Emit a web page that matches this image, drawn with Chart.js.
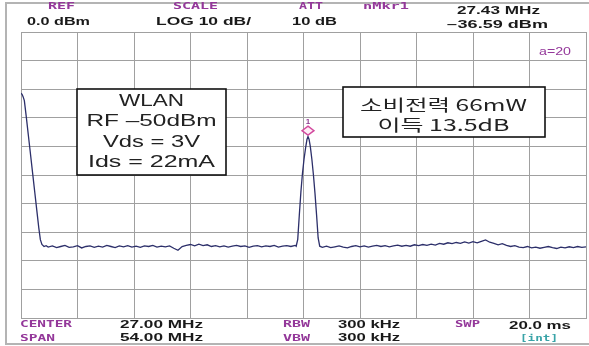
<!DOCTYPE html>
<html>
<head>
<meta charset="utf-8">
<script src="https://cdn.jsdelivr.net/npm/chart.js@4"></script>
<style>
  html, body { margin: 0; padding: 0; background: #ffffff; }
  #wrap { width: 589px; height: 346px; position: relative; }
  canvas { display: block; }
</style>
</head>
<body>
<div id="wrap"><canvas id="sa" width="589" height="346"></canvas></div>
<script>
// Sweep: frequency (MHz) and measured level (dBm), 0 to 54 MHz span
const sweepMHz = [
  0, 0.1, 0.2, 0.32, 0.5, 0.7, 0.9, 1.1, 1.3, 1.5, 1.7, 1.85, 2.0, 2.2, 2.4,
  2.6, 3.0, 3.4, 3.8, 4.2, 4.6, 5.0, 5.4, 5.8, 6.2,
  6.6, 7.0, 7.4, 7.8, 8.2, 8.6, 9.0, 9.4, 9.8, 10.2,
  10.6, 11.0, 11.4, 11.8, 12.2, 12.6, 13.0, 13.4, 13.8, 14.2,
  14.6, 15.0, 15.4, 15.8, 16.2, 16.6, 17.0, 17.4, 17.8, 18.2,
  18.6, 19.0, 19.4, 19.8, 20.2, 20.6, 21.0, 21.4, 21.8, 22.2,
  22.6, 23.0, 23.4, 23.8, 24.2, 24.6, 25.0, 25.4, 25.8, 26.2,
  26.3, 26.45, 26.6, 26.75, 26.9, 27.05, 27.2, 27.33, 27.43, 27.53, 27.65, 27.8, 27.95, 28.1, 28.25, 28.4, 28.55,
  28.8, 29.2, 29.6, 30.0, 30.4, 30.8, 31.2, 31.6, 32.0, 32.4,
  32.8, 33.2, 33.6, 34.0, 34.4, 34.8, 35.2, 35.6, 36.0, 36.4,
  36.8, 37.2, 37.6, 38.0, 38.4, 38.8, 39.2, 39.6, 40.0, 40.4,
  40.8, 41.2, 41.6, 42.0, 42.4, 42.8, 43.2, 43.6, 44.0, 44.4,
  44.8, 45.2, 45.6, 46.0, 46.4, 46.8, 47.2, 47.6, 48.0, 48.4,
  48.8, 49.2, 49.6, 50.0, 50.4, 50.8, 51.2, 51.6, 52.0, 52.4,
  52.8, 53.2, 53.6, 54.0
];
const levelDbm = [
  -21.4, -21.8, -22.6, -24.0, -29.5, -36.0, -42.5, -49.0, -55.5, -62.0, -68.5, -72.6, -74.3, -75.0, -74.7,
  -75.2, -74.8, -75.4, -75.0, -74.6, -75.3, -75.1, -74.7, -75.5, -75.0,
  -74.8, -75.3, -74.9, -75.2, -74.6, -75.0, -75.4, -74.8, -75.1, -74.7,
  -75.2, -74.9, -75.3, -74.8, -75.0, -74.6, -75.2, -74.9, -75.1, -74.8,
  -75.6, -76.3, -75.0, -74.6, -74.3, -74.8, -74.2, -74.7, -74.4, -75.0,
  -74.7, -75.1, -74.8, -75.2, -74.9, -74.6, -75.0, -74.8, -75.3, -74.9,
  -74.7, -75.1, -74.8, -75.0, -74.6, -75.2, -74.9, -74.7, -75.0, -74.6,
  -74.9, -72.5, -64.0, -56.0, -49.5, -44.5, -40.5, -37.6, -36.59, -37.5, -40.0, -44.5, -50.0, -56.5, -64.0, -72.0, -74.9,
  -75.3, -74.9, -75.4, -75.1, -74.8, -75.2, -75.5, -75.0, -74.7, -75.1,
  -74.8, -75.2, -74.9, -74.6, -75.0, -74.7, -75.1, -74.8, -74.5, -74.9,
  -74.6, -74.9, -74.4, -74.7, -74.3, -74.6, -74.2, -74.5, -73.9, -74.2,
  -73.7, -74.0, -73.6, -73.9, -73.4, -73.8, -73.3, -73.7, -73.2, -72.7,
  -73.5, -73.9, -74.4, -74.0, -74.6, -75.0, -74.7, -75.2, -75.4, -75.0,
  -75.5, -75.2, -75.6, -75.3, -75.0, -75.4, -75.7, -75.2, -75.5, -75.1,
  -75.4, -75.0, -75.3, -75.1
];

// Graticule divisions: 10 horizontal (5.4 MHz each), 10 vertical (10 dB each)
const gridMHz = [0, 5.4, 10.8, 16.2, 21.6, 27.0, 32.4, 37.8, 43.2, 48.6, 54.0];
const gridDbm = [0, -10, -20, -30, -40, -50, -60, -70, -80, -90, -100];

// Marker 1 readout
const markerMHz = 27.43;
const markerDbm = -36.59;

// Instrument annotation text
const headerItems = [
  { t: 'REF', x: 48, y: 7, w: 27, kind: 'tag' },
  { t: '0.0 dBm', x: 27, y: 22, w: 63, kind: 'val' },
  { t: 'SCALE', x: 173, y: 7, w: 45, kind: 'tag' },
  { t: 'LOG 10 dB/', x: 156, y: 22, w: 95, kind: 'val' },
  { t: 'ATT', x: 299, y: 7, w: 24, kind: 'tag' },
  { t: '10 dB', x: 292, y: 22, w: 45, kind: 'val' },
  { t: 'nMkr1', x: 363, y: 7, w: 46, kind: 'tag' },
  { t: '27.43 MHz', x: 457, y: 11, w: 83, kind: 'val' },
  { t: '\u221236.59 dBm', x: 447, y: 25, w: 101, kind: 'val' },
  { t: 'a=20', x: 539, y: 52, w: 32, kind: 'small' }
];
const footerItems = [
  { t: 'CENTER', x: 20, y: 325, w: 52, kind: 'tag' },
  { t: 'SPAN', x: 20, y: 339, w: 35, kind: 'tag' },
  { t: '27.00 MHz', x: 120, y: 325, w: 83, kind: 'val' },
  { t: '54.00 MHz', x: 120, y: 338, w: 83, kind: 'val' },
  { t: 'RBW', x: 283, y: 325, w: 27, kind: 'tag' },
  { t: 'VBW', x: 283, y: 339, w: 27, kind: 'tag' },
  { t: '300 kHz', x: 338, y: 325, w: 62, kind: 'val' },
  { t: '300 kHz', x: 338, y: 338, w: 62, kind: 'val' },
  { t: 'SWP', x: 455, y: 325, w: 25, kind: 'tag' },
  { t: '20.0 ms', x: 509, y: 326, w: 62, kind: 'val' },
  { t: '[int]', x: 520, y: 339, w: 38, kind: 'int' }
];
const leftNote = ['WLAN', 'RF \u201350dBm', 'Vds = 3V', 'Ids = 22mA'];
const rightNote = ['소비전력 66mW', '이득 13.5dB'];

const styles = {
  tag:   { font: 'bold 9px "DejaVu Sans Mono", "Liberation Mono", monospace', color: '#94389a' },
  val:   { font: 'bold 10px "Liberation Sans", Arial, sans-serif', color: '#1a1a1a' },
  small: { font: '10px "Liberation Sans", Arial, sans-serif', color: '#94389a' },
  int:   { font: 'bold 8px "DejaVu Sans Mono", "Liberation Mono", monospace', color: '#3aa4a8' }
};

function fitText(ctx, str, x, y, w, font, color, align) {
  ctx.save();
  ctx.font = font;
  ctx.fillStyle = color;
  ctx.textBaseline = 'middle';
  const m = ctx.measureText(str).width;
  const sx = w / m;
  let left = x;
  if (align === 'center') left = x - w / 2;
  ctx.translate(left, y);
  ctx.scale(sx, 1);
  ctx.textAlign = 'left';
  ctx.fillText(str, 0, 0);
  ctx.restore();
}

const instrumentDecor = {
  id: 'instrumentDecor',
  beforeDraw(chart) {
    const ctx = chart.ctx;
    ctx.save();
    ctx.fillStyle = '#ffffff';
    ctx.fillRect(0, 0, chart.width, chart.height);
    // outer bezel edge
    ctx.strokeStyle = '#b4b4b4';
    ctx.lineWidth = 2;
    ctx.beginPath();
    ctx.moveTo(chart.width, 3);
    ctx.lineTo(6, 3);
    ctx.lineTo(6, 344);
    ctx.lineTo(chart.width, 344);
    ctx.stroke();
    ctx.restore();
  },
  afterDraw(chart) {
    const ctx = chart.ctx;
    headerItems.concat(footerItems).forEach(it => {
      const s = styles[it.kind];
      fitText(ctx, it.t, it.x, it.y, it.w, s.font, s.color, 'left');
    });

    // marker diamond just above the trace peak
    const xs = chart.scales.x, ys = chart.scales.y;
    const mx = xs.getPixelForValue(markerMHz);
    const my = ys.getPixelForValue(markerDbm) - 6;
    ctx.save();
    ctx.strokeStyle = '#d24a9e';
    ctx.fillStyle = 'rgba(255,225,240,0.6)';
    ctx.lineWidth = 1.4;
    ctx.beginPath();
    ctx.moveTo(mx, my - 4.5);
    ctx.lineTo(mx + 6, my);
    ctx.lineTo(mx, my + 4.5);
    ctx.lineTo(mx - 6, my);
    ctx.closePath();
    ctx.fill();
    ctx.stroke();
    ctx.fillStyle = '#8e3c92';
    ctx.font = 'bold 8px "Liberation Sans", Arial, sans-serif';
    ctx.textAlign = 'center';
    ctx.textBaseline = 'middle';
    ctx.fillText('1', mx, my - 9);
    ctx.restore();

    // annotation boxes
    ctx.save();
    ctx.fillStyle = '#ffffff';
    ctx.strokeStyle = '#111111';
    ctx.lineWidth = 1.6;
    ctx.fillRect(77, 89, 149, 86);
    ctx.strokeRect(77, 89, 149, 86);
    ctx.fillRect(343, 87, 202, 50);
    ctx.strokeRect(343, 87, 202, 50);
    ctx.restore();

    const leftW = [65, 130, 97, 127];
    const leftY = [101, 121, 142, 162];
    leftNote.forEach((s, i) => {
      fitText(ctx, s, 151.5, leftY[i], leftW[i], '17px "Liberation Sans", Arial, sans-serif', '#222222', 'center');
    });
    const rightW = [167, 132];
    const rightY = [105, 125];
    rightNote.forEach((s, i) => {
      fitText(ctx, s, 443.5, rightY[i], rightW[i], '16px "Noto Sans CJK KR", "Noto Sans", sans-serif', '#222222', 'center');
    });
  }
};

const gridLook = { color: '#a0a0a0', lineWidth: 1, drawTicks: false };

new Chart(document.getElementById('sa'), {
  type: 'line',
  data: {
    datasets: [{
      data: sweepMHz.map((f, i) => ({ x: f, y: levelDbm[i] })),
      borderColor: '#2c2f6a',
      borderWidth: 1.3,
      pointRadius: 0,
      tension: 0,
      fill: false
    }]
  },
  options: {
    responsive: false,
    animation: false,
    devicePixelRatio: 1,
    layout: { padding: { left: 21, top: 32, right: 3, bottom: 28 } },
    plugins: { legend: { display: false }, tooltip: { enabled: false } },
    scales: {
      x: {
        type: 'linear', min: 0, max: 54,
        grid: gridLook,
        border: { display: true, color: '#a0a0a0', width: 1 },
        ticks: { display: false },
        afterBuildTicks: s => { s.ticks = gridMHz.map(v => ({ value: v })); },
        afterFit: s => { s.height = 0; }
      },
      y: {
        type: 'linear', min: -100, max: 0,
        grid: gridLook,
        border: { display: true, color: '#a0a0a0', width: 1 },
        ticks: { display: false },
        afterBuildTicks: s => { s.ticks = gridDbm.map(v => ({ value: v })); },
        afterFit: s => { s.width = 0; }
      }
    }
  },
  plugins: [instrumentDecor]
});
</script>
</body>
</html>
